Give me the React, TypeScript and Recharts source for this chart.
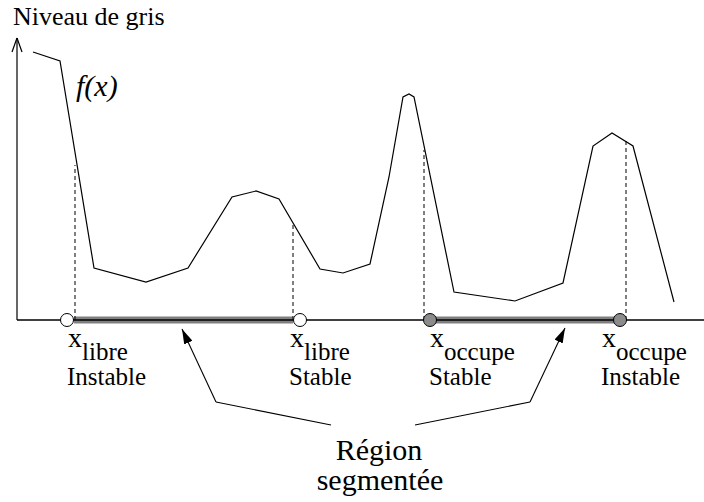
import React from 'react';
import { ComposedChart, Line, XAxis, YAxis, ReferenceLine, ReferenceDot } from 'recharts';

// Grey level profile f(x) (x = position, level = grey level)
const curvePos = [16, 43, 77, 129, 171, 215, 239, 262, 303, 326, 353, 372, 386, 392, 397, 437, 498, 546, 576, 595, 616, 657];
const curveLevel = [268, 259, 52, 38, 52, 123, 129, 121, 51, 47, 56, 143, 223, 226, 223, 28, 19, 37, 174, 187, 174, 18];

// Threshold points on the position axis
const markerPos = [50, 283, 413, 603];
const markerState = ['libre', 'libre', 'occupe', 'occupe'];
const markerStability = ['Instable', 'Stable', 'Stable', 'Instable'];
const markerFilled = [false, false, true, true];

// Dashed projections from the curve to the axis
const dashedPos = [58, 276, 407, 609];
const dashedTop = [155, 98, 170, 182];

// Segmented regions (thick grey bars)
const regionStart = [57, 413];
const regionEnd = [276, 598];

// Arrows from the "Région segmentée" caption to each region
const arrowPaths = [
  [[314, -105], [199, -82], [165, -9]],
  [[398, -105], [513, -82], [548, -8]],
];

const xMax = 687;
const yMax = 282;

const data = curvePos.map((pos, i) => ({ pos, level: curveLevel[i] }));

const labelShift = [1, -10, 0, -18];

const markerShape = (i: number) => (props: any) => {
  const { cx, cy } = props;
  const x0 = cx + labelShift[i];
  return (
    <g>
      <circle cx={cx} cy={cy} r={6.5} fill={markerFilled[i] ? '#8c8c8c' : '#fff'} stroke="#000" strokeWidth={1} />
      <text x={x0} y={cy + 27} fontFamily="Liberation Serif" fill="#000">
        <tspan fontSize={28}>x</tspan>
        <tspan fontSize={25} dy={13}>{markerState[i]}</tspan>
      </text>
      <text x={x0 - 1} y={cy + 65} fontFamily="Liberation Serif" fontSize={25} fill="#000">
        {markerStability[i]}
      </text>
    </g>
  );
};

export default function App() {
  return (
    <div style={{ position: 'absolute', left: 0, top: 0, width: 704, height: 502, background: '#fff', fontFamily: 'Liberation Serif' }}>
      <ComposedChart width={704} height={502} data={data} margin={{ top: 38, right: 0, bottom: 182, left: 17 }}>
        <defs>
          <marker id="arrowHead" markerUnits="userSpaceOnUse" markerWidth={16} markerHeight={9} refX={15} refY={4.5} orient="auto">
            <path d="M0,0 L15,4.5 L0,9 z" fill="#000" />
          </marker>
        </defs>
        <XAxis type="number" dataKey="pos" domain={[0, xMax]} allowDataOverflow hide />
        <YAxis type="number" domain={[0, yMax]} allowDataOverflow hide />

        {regionStart.map((s, i) => (
          <ReferenceLine
            key={'reg' + i}
            segment={[{ x: s, y: 0 }, { x: regionEnd[i], y: 0 }]}
            stroke="#808080"
            strokeWidth={7}
            ifOverflow="visible"
          />
        ))}

        {/* axes */}
        <ReferenceLine segment={[{ x: 0, y: 0 }, { x: xMax, y: 0 }]} stroke="#000" strokeWidth={1.3} ifOverflow="visible" />
        <ReferenceLine segment={[{ x: 0, y: 0 }, { x: 0, y: yMax }]} stroke="#000" strokeWidth={1.2} ifOverflow="visible" />
        <ReferenceLine segment={[{ x: -5, y: yMax - 14 }, { x: 0, y: yMax }]} stroke="#000" strokeWidth={1.2} ifOverflow="visible" />
        <ReferenceLine segment={[{ x: 5, y: yMax - 14 }, { x: 0, y: yMax }]} stroke="#000" strokeWidth={1.2} ifOverflow="visible" />

        {dashedPos.map((p, i) => (
          <ReferenceLine
            key={'dash' + i}
            segment={[{ x: p, y: 0 }, { x: p, y: dashedTop[i] }]}
            stroke="#000"
            strokeWidth={1}
            strokeDasharray="4 3"
            ifOverflow="visible"
          />
        ))}

        <Line type="linear" dataKey="level" stroke="#000" strokeWidth={1.2} dot={false} isAnimationActive={false} />

        {arrowPaths.map((path, a) =>
          path.slice(1).map((pt, j) => (
            <ReferenceLine
              key={'arr' + a + '-' + j}
              segment={[{ x: path[j][0], y: path[j][1] }, { x: pt[0], y: pt[1] }]}
              stroke="#000"
              strokeWidth={1.1}
              markerEnd={j === path.length - 2 ? 'url(#arrowHead)' : undefined}
              ifOverflow="visible"
            />
          ))
        )}

        {markerPos.map((p, i) => (
          <ReferenceDot key={'m' + i} x={p} y={0} r={6.5} ifOverflow="visible" shape={markerShape(i)} />
        ))}

        <text x={13} y={25} fontFamily="Liberation Serif" fontSize={26} fill="#000">Niveau de gris</text>
        <text x={76} y={96} fontFamily="Liberation Serif" fontStyle="italic" fontSize={30} fill="#000">f(x)</text>
        <text x={379} y={460} textAnchor="middle" fontFamily="Liberation Serif" fontSize={30} fill="#000">Région</text>
        <text x={380} y={490} textAnchor="middle" fontFamily="Liberation Serif" fontSize={30} fill="#000">segmentée</text>
      </ComposedChart>
    </div>
  );
}
